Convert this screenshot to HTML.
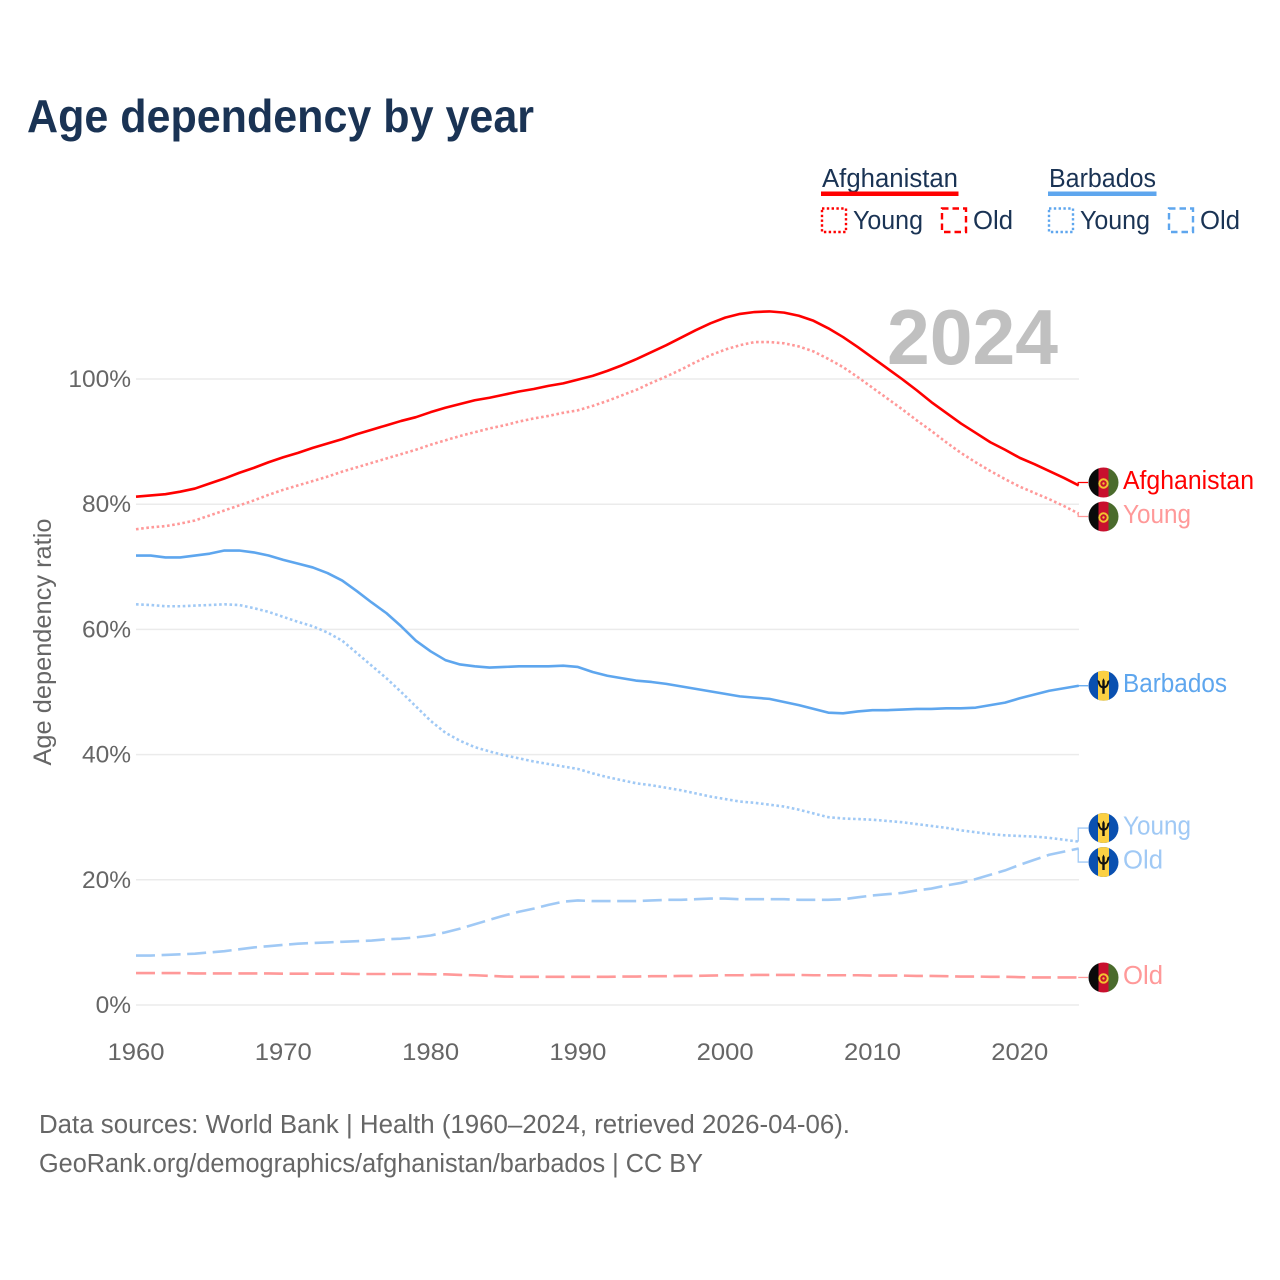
<!DOCTYPE html>
<html lang="en">
<head>
<meta charset="utf-8">
<title>Age dependency by year</title>
<style>
html,body{margin:0;padding:0;background:#fff;width:1280px;height:1280px;overflow:hidden}
svg{display:block;font-family:"Liberation Sans",sans-serif}
</style>
</head>
<body>
<svg id="chart" width="1280" height="1280" viewBox="0 0 1280 1280" xmlns="http://www.w3.org/2000/svg">
  <defs>
    <clipPath id="flag-clip"><circle cx="0" cy="0" r="15"/></clipPath>
    <g id="flag-af" clip-path="url(#flag-clip)">
      <rect x="-15" y="-15" width="10" height="30" fill="#0a0a0a"/>
      <rect x="-5" y="-15" width="10" height="30" fill="#c8102e"/>
      <rect x="5" y="-15" width="10" height="30" fill="#4a6b2c"/>
      <circle cx="0" cy="1" r="4.2" fill="none" stroke="#f2c230" stroke-width="2"/>
      <circle cx="0" cy="1" r="1.2" fill="#f2c230"/>
    </g>
    <g id="flag-bb" clip-path="url(#flag-clip)">
      <rect x="-15" y="-15" width="30" height="30" fill="#0a50b0"/>
      <rect x="-5.5" y="-15" width="11" height="30" fill="#fbd043"/>
      <path d="M-6 -6 Q-5.5 1.5 -1.2 2.5 L-1.2 8 L1.2 8 L1.2 2.5 Q5.5 1.5 6 -6 L3.8 -4.5 Q3.4 0 1.2 0.3 L1.2 -5 L0 -7.5 L-1.2 -5 L-1.2 0.3 Q-3.4 0 -3.8 -4.5 Z" fill="#111"/>
    </g>
  </defs>

  <text x="27" y="132" font-size="46" font-weight="700" fill="#1a3354" textLength="507" lengthAdjust="spacingAndGlyphs">Age dependency by year</text>

  <g font-size="25.5" fill="#1a3354">
    <g>
      <text x="822" y="187" textLength="136" lengthAdjust="spacingAndGlyphs">Afghanistan</text>
      <rect x="821" y="191.5" width="137.5" height="4.5" fill="#ff0000"/>
      <rect x="822" y="208.5" width="24" height="23.5" fill="none" stroke="#ff0000" stroke-width="2.4" stroke-dasharray="2.4 2.4"/>
      <text x="853" y="229" textLength="70" lengthAdjust="spacingAndGlyphs">Young</text>
      <rect x="942" y="208.5" width="24" height="23.5" fill="none" stroke="#ff0000" stroke-width="2.4" stroke-dasharray="6.5 4"/>
      <text x="973" y="229" textLength="40" lengthAdjust="spacingAndGlyphs">Old</text>
    </g>
    <g>
      <text x="1049" y="187" textLength="107" lengthAdjust="spacingAndGlyphs">Barbados</text>
      <rect x="1048" y="191.5" width="108.5" height="4.5" fill="#5ea6ee"/>
      <rect x="1049" y="208.5" width="24" height="23.5" fill="none" stroke="#5ea6ee" stroke-width="2.4" stroke-dasharray="2.4 2.4"/>
      <text x="1080" y="229" textLength="70" lengthAdjust="spacingAndGlyphs">Young</text>
      <rect x="1169" y="208.5" width="24" height="23.5" fill="none" stroke="#5ea6ee" stroke-width="2.4" stroke-dasharray="6.5 4"/>
      <text x="1200" y="229" textLength="40" lengthAdjust="spacingAndGlyphs">Old</text>
    </g>
  </g>

  <text transform="translate(51,642) rotate(-90)" text-anchor="middle" font-size="25" fill="#666666" textLength="247" lengthAdjust="spacingAndGlyphs">Age dependency ratio</text>
  <g id="grid"></g>
  <g id="y-ticks"></g>
  <g id="x-ticks"></g>

  <text x="887" y="364" font-size="78" font-weight="700" fill="#c0c0c0" textLength="171" lengthAdjust="spacingAndGlyphs">2024</text>

  <g id="series"></g>
  <g id="end-labels"></g>

  <g font-size="25.5" fill="#666666">
    <text x="39" y="1133" textLength="811" lengthAdjust="spacingAndGlyphs">Data sources: World Bank | Health (1960–2024, retrieved 2026-04-06).</text>
    <text x="39" y="1172" textLength="664" lengthAdjust="spacingAndGlyphs">GeoRank.org/demographics/afghanistan/barbados | CC BY</text>
  </g>
</svg>

<script>
const startYear = 1960;
const xTickLabels = [1960, 1970, 1980, 1990, 2000, 2010, 2020];
const yTickLabels = [0, 20, 40, 60, 80, 100];

const afghanistanTotal = [81.2,81.4,81.6,82.0,82.5,83.3,84.1,85.0,85.8,86.7,87.5,88.2,89.0,89.7,90.4,91.2,91.9,92.6,93.3,93.9,94.7,95.4,96.0,96.6,97.0,97.5,98.0,98.4,98.9,99.3,99.9,100.5,101.3,102.2,103.2,104.3,105.4,106.6,107.8,108.9,109.8,110.4,110.7,110.8,110.6,110.1,109.3,108.1,106.7,105.1,103.4,101.7,100.0,98.2,96.3,94.6,92.9,91.4,89.9,88.7,87.4,86.4,85.3,84.2,83.0];
const afghanistanYoung = [76.0,76.3,76.5,76.9,77.4,78.2,79.0,79.8,80.6,81.5,82.3,83.0,83.7,84.4,85.2,85.9,86.6,87.3,88.0,88.7,89.5,90.2,90.9,91.5,92.1,92.6,93.2,93.7,94.1,94.6,95.0,95.7,96.5,97.4,98.3,99.4,100.4,101.5,102.7,103.8,104.7,105.4,105.9,105.9,105.7,105.2,104.4,103.2,101.9,100.3,98.6,96.9,95.2,93.4,91.7,89.9,88.2,86.7,85.3,84.0,82.8,81.8,80.8,79.7,78.5];
const afghanistanOld = [5.1,5.1,5.1,5.1,5.05,5.05,5.05,5.05,5.05,5.05,5.0,5.0,5.0,5.0,5.0,4.95,4.95,4.95,4.95,4.95,4.9,4.9,4.8,4.75,4.65,4.55,4.5,4.5,4.5,4.5,4.5,4.5,4.5,4.55,4.55,4.6,4.6,4.65,4.65,4.7,4.75,4.75,4.8,4.8,4.8,4.8,4.75,4.75,4.75,4.75,4.7,4.7,4.7,4.65,4.65,4.6,4.55,4.55,4.5,4.5,4.45,4.4,4.4,4.4,4.4];
const barbadosTotal = [71.8,71.8,71.5,71.5,71.8,72.1,72.6,72.6,72.3,71.8,71.1,70.5,69.9,69.0,67.8,66.1,64.3,62.6,60.5,58.2,56.5,55.1,54.4,54.1,53.9,54.0,54.1,54.1,54.1,54.2,54.0,53.2,52.6,52.2,51.8,51.6,51.3,50.9,50.5,50.1,49.7,49.3,49.1,48.9,48.4,47.9,47.3,46.7,46.6,46.9,47.1,47.1,47.2,47.3,47.3,47.4,47.4,47.5,47.9,48.3,49.0,49.6,50.2,50.6,51.0];
const barbadosYoung = [64.0,63.9,63.7,63.7,63.8,63.9,64.0,63.9,63.4,62.8,62.0,61.2,60.5,59.5,58.2,56.2,54.2,52.2,50.0,47.7,45.4,43.5,42.2,41.2,40.5,39.9,39.4,38.9,38.5,38.1,37.7,37.0,36.4,35.9,35.4,35.1,34.7,34.3,33.8,33.3,32.9,32.5,32.3,32.0,31.7,31.2,30.6,30.0,29.8,29.7,29.6,29.4,29.2,28.9,28.6,28.3,27.9,27.6,27.3,27.1,27.0,26.9,26.7,26.4,26.1];
const barbadosOld = [7.9,7.9,8.0,8.1,8.2,8.4,8.6,8.9,9.2,9.4,9.6,9.8,9.9,10.0,10.1,10.2,10.3,10.5,10.6,10.8,11.1,11.6,12.2,12.9,13.6,14.3,14.9,15.4,16.0,16.5,16.7,16.6,16.6,16.6,16.6,16.7,16.8,16.8,16.9,17.0,17.0,16.9,16.9,16.9,16.9,16.8,16.8,16.8,16.9,17.2,17.5,17.7,17.9,18.3,18.6,19.1,19.5,20.1,20.8,21.5,22.4,23.2,24.0,24.5,25.0];

const NS = 'http://www.w3.org/2000/svg';
const xScale = function (year) { return 136 + (year - startYear) * 14.73; };
const yScale = function (value) { return 1005 - value * 6.26; };

const make = function (tag, parent, attrs) {
  const el = document.createElementNS(NS, tag);
  Object.keys(attrs).forEach(function (k) { el.setAttribute(k, attrs[k]); });
  parent.appendChild(el);
  return el;
};

const grid = document.getElementById('grid');
const yTicks = document.getElementById('y-ticks');
yTickLabels.forEach(function (v) {
  const line = make('line', grid, { x1: 136, x2: 1079, y1: yScale(v), y2: yScale(v), stroke: '#ebebeb', 'stroke-width': 1.5 });
  
  
  const t = make('text', yTicks, { x: 131, y: yScale(v) + 8, 'text-anchor': 'end', 'font-size': 24.5, fill: '#666666' });
  t.textContent = v + '%';
  
  
});

const xTicks = document.getElementById('x-ticks');
xTickLabels.forEach(function (year) {
  const t = make('text', xTicks, { x: xScale(year), y: 1060, 'text-anchor': 'middle', 'font-size': 24.5, fill: '#666666', textLength: 57, lengthAdjust: 'spacingAndGlyphs' });
  t.textContent = String(year);
  
  
});

const RED = '#ff0000', BLUE = '#5ea6ee', RED_LIGHT = '#ff9999', BLUE_LIGHT = '#a0c9f5';
const DOTTED = '2.6 2.6', DASHED = '19 6.6';
const seriesDefs = [
  { key: 'afghanistan-old', values: afghanistanOld, color: RED_LIGHT, dash: DASHED, flag: 'flag-af', label: 'Old', width: 40 },
  { key: 'barbados-old', values: barbadosOld, color: BLUE_LIGHT, dash: DASHED, flag: 'flag-bb', label: 'Old', width: 40 },
  { key: 'barbados-young', values: barbadosYoung, color: BLUE_LIGHT, dash: DOTTED, flag: 'flag-bb', label: 'Young', width: 68 },
  { key: 'barbados-total', values: barbadosTotal, color: BLUE, dash: null, flag: 'flag-bb', label: 'Barbados', width: 104 },
  { key: 'afghanistan-young', values: afghanistanYoung, color: RED_LIGHT, dash: DOTTED, flag: 'flag-af', label: 'Young', width: 68 },
  { key: 'afghanistan-total', values: afghanistanTotal, color: RED, dash: null, flag: 'flag-af', label: 'Afghanistan', width: 131 }
];

const seriesGroup = document.getElementById('series');
seriesDefs.forEach(function (s) {
  const points = s.values.map(function (v, i) { return xScale(startYear + i).toFixed(2) + ',' + yScale(v).toFixed(2); }).join(' ');
  const attrs = { points: points, fill: 'none', stroke: s.color, 'stroke-width': 2.6, 'stroke-linejoin': 'round' };
  if (s.dash) { attrs['stroke-dasharray'] = s.dash; }
  const line = make('polyline', seriesGroup, attrs);
  
  
});

/* Dodge overlapping end labels so flags stay at least 34px apart. */
const MIN_GAP = 34;
const sorted = seriesDefs.map(function (s) {
  return { s: s, endY: yScale(s.values[s.values.length - 1]) };
}).sort(function (a, b) { return a.endY - b.endY; });
let clusters = sorted.map(function (item) { return { items: [item], centre: item.endY }; });
let merged = true;
while (merged) {
  merged = false;
  for (let i = 0; i < clusters.length - 1; i++) {
    const a = clusters[i], b = clusters[i + 1];
    const aBottom = a.centre + (a.items.length - 1) * MIN_GAP / 2;
    const bTop = b.centre - (b.items.length - 1) * MIN_GAP / 2;
    if (bTop - aBottom < MIN_GAP) {
      const items = a.items.concat(b.items);
      const centre = items.reduce(function (sum, it) { return sum + it.endY; }, 0) / items.length;
      clusters.splice(i, 2, { items: items, centre: centre });
      merged = true;
      break;
    }
  }
}

const endLabels = document.getElementById('end-labels');
const endX = xScale(startYear + afghanistanTotal.length - 1);
clusters.forEach(function (c) {
  c.items.forEach(function (item, idx) {
    const flagY = c.centre + (idx - (c.items.length - 1) / 2) * MIN_GAP;
    const s = item.s;
    const leader = make('path', endLabels, { d: 'M' + (endX - 0.5) + ' ' + item.endY + ' V' + flagY + ' H1088', fill: 'none', stroke: s.color, 'stroke-width': 1.3 });
    
    
    const flag = make('use', endLabels, { href: '#' + s.flag, transform: 'translate(1103.5,' + flagY + ')' });
    
    
    const text = make('text', endLabels, { x: 1123, y: flagY + 6.5, 'font-size': 25.5, fill: s.color, textLength: s.width, lengthAdjust: 'spacingAndGlyphs' });
    text.textContent = s.label;
    
    
  });
});
</script>
</body>
</html>
